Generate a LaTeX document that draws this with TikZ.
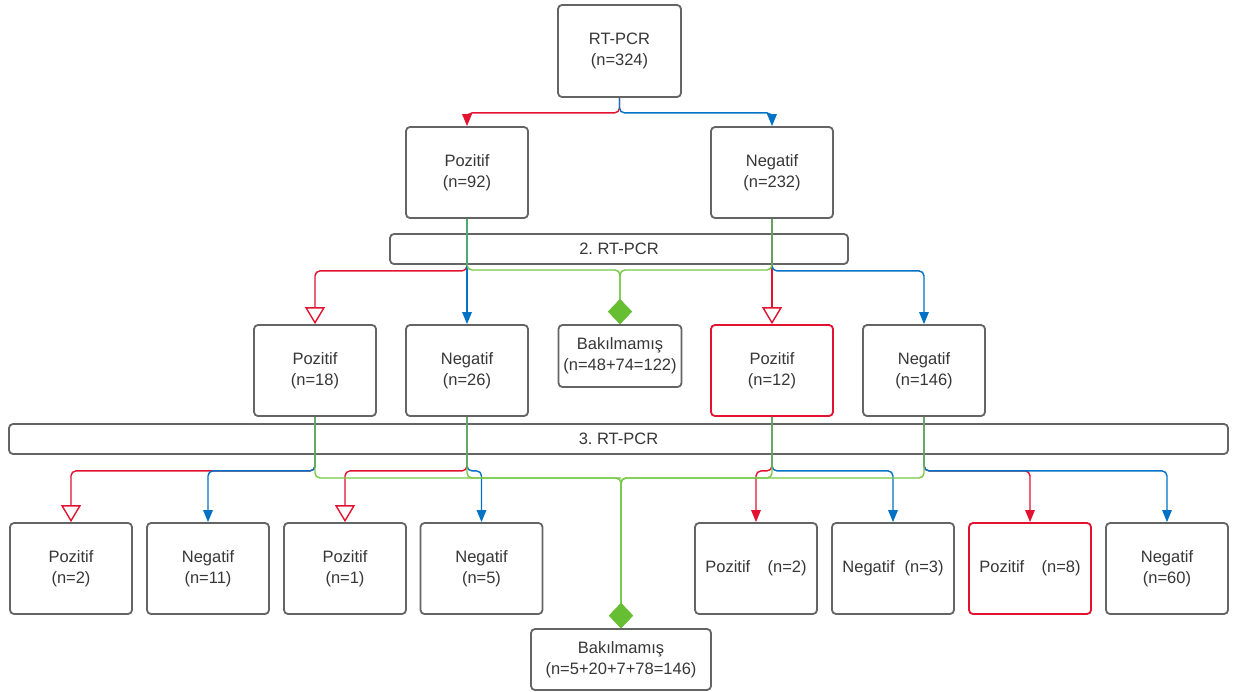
\documentclass[tikz,border=0pt]{standalone}
\usepackage{fontspec}
\setmainfont{Liberation Sans}
\usetikzlibrary{arrows.meta}
\definecolor{cred}{RGB}{226,18,48}
\definecolor{cblue}{RGB}{0,114,198}
\definecolor{cgreen}{RGB}{118,200,70}
\definecolor{cdia}{RGB}{102,190,50}
\definecolor{boxgray}{RGB}{100,100,100}
\definecolor{textgray}{RGB}{55,55,55}
\frenchspacing
\begin{document}
\begin{tikzpicture}[x=1pt,y=-1pt,
  box/.style={draw=boxgray,line width=1.8pt,rounded corners=4pt,fill=white,
    minimum width=122pt,minimum height=91pt,align=center,text=textgray,
    font=\fontsize{16.5}{21}\selectfont,inner sep=0pt},
  redbox/.style={box,draw=cred},
  bar/.style={box,minimum height=30pt},
  conn/.style={line width=1.4pt,rounded corners=5pt},
  redf/.style={conn,draw=cred,-{Triangle[length=12pt,width=9.5pt]}},
  redo/.style={conn,draw=cred,-{Triangle[length=17pt,width=20pt,fill=white]}},
  bluef/.style={conn,draw=cblue,-{Triangle[length=12pt,width=9.5pt]}},
  grn/.style={conn,draw=cgreen,-{Diamond[length=25pt,width=24pt,color=cdia,fill=cdia]}},
  grnl/.style={conn,draw=cgreen}
]
\useasboundingbox (0,0) rectangle (1233,691);
\fill[white] (0,0) rectangle (1233,691);

% bars
\node[bar,minimum width=458pt] (bar2) at (619,249) {2. RT-PCR};
\node[bar,minimum width=1219pt] (bar3) at (618.5,439) {3. RT-PCR};

% level 0
\node[box,minimum width=123pt,minimum height=92pt] (root) at (619.5,51) {RT-PCR\\(n=324)};
% level 1
\node[box] (p92) at (467,172.5) {Pozitif\\(n=92)};
\node[box] (n232) at (772,172.5) {Negatif\\(n=232)};
% level 2
\node[box] (p18) at (315,370.5) {Pozitif\\(n=18)};
\node[box] (n26) at (467,370.5) {Negatif\\(n=26)};
\node[box,minimum width=123pt,minimum height=62pt] (bak1) at (620,356) {Bakılmamış\\(n=48+74=122)};
\node[redbox] (p12) at (772,370.5) {Pozitif\\(n=12)};
\node[box] (n146) at (924,370.5) {Negatif\\(n=146)};
% level 3
\node[box] (q1) at (71,568.5) {Pozitif\\(n=2)};
\node[box] (q2) at (208,568.5) {Negatif\\(n=11)};
\node[box] (q3) at (345,568.5) {Pozitif\\(n=1)};
\node[box] (q4) at (481.5,568.5) {Negatif\\(n=5)};
\node[box] (q5) at (756,568.5) {Pozitif\hspace{1.05em}(n=2)};
\node[box] (q6) at (893,568.5) {Negatif\hspace{0.6em}(n=3)};
\node[redbox] (q7) at (1030,568.5) {Pozitif\hspace{1.05em}(n=8)};
\node[box] (q8) at (1167,568.5) {Negatif\\(n=60)};
\node[box,minimum width=180pt,minimum height=61pt] (bak2) at (621,659.5) {Bakılmamış\\(n=5+20+7+78=146)};

\coordinate (j1) at (620,270);
\coordinate (j2) at (621,478);

% level 0 -> 1
\draw[redf] (root.south) -- ++(0,15) -| (p92.north);
\draw[bluef] (root.south) -- ++(0,15) -| (n232.north);

% level 1 -> 2
\draw[redo] (p92.south) -- ++(0,52) -| (p18.north);
\draw[bluef] (p92.south) -- (n26.north);
\draw[redo] (n232.south) -- (p12.north);
\draw[bluef] (n232.south) -- ++(0,52) -| (n146.north);
\draw[grn] (p92.south) |- (j1) -- (bak1.north);
\draw[grn] (n232.south) |- (j1) -- (bak1.north);

% level 2 -> 3
\draw[redo] (p18.south) -- ++(0,54) -| (q1.north);
\draw[bluef] (p18.south) -- ++(0,54) -| (q2.north);
\draw[redo] (n26.south) -- ++(0,54) -| (q3.north);
\draw[bluef] (n26.south) -- ++(0,54) -| (q4.north);
\draw[redf] (p12.south) -- ++(0,54) -| (q5.north);
\draw[bluef] (p12.south) -- ++(0,54) -| (q6.north);
\draw[redf] (n146.south) -- ++(0,54) -| (q7.north);
\draw[bluef] (n146.south) -- ++(0,54) -| (q8.north);
\draw[grnl] (n26.south) |- (j2);
\draw[grn] (p12.south) |- (j2) -- (bak2.north);
\draw[grn] (n146.south) |- (j2) -- (bak2.north);
\draw[grn] (p18.south) |- (j2) -- (bak2.north);
\end{tikzpicture}
\end{document}
